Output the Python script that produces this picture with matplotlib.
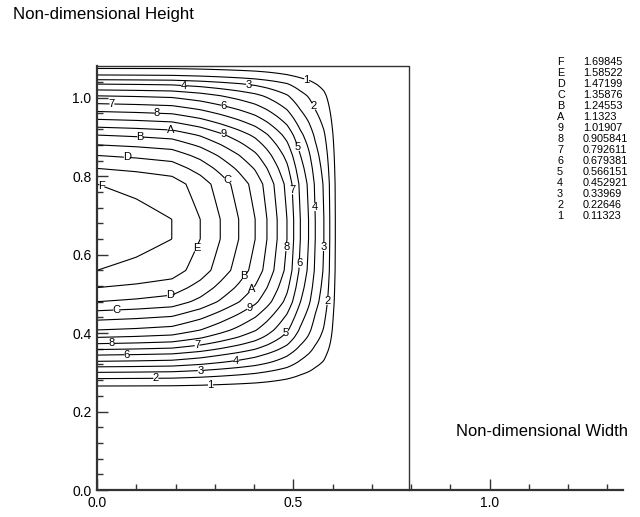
import numpy as np
import matplotlib.pyplot as plt

plt.rcParams['font.family'] = ['Liberation Sans', 'DejaVu Sans']

# contour levels (legend)
level_names = ['1', '2', '3', '4', '5', '6', '7', '8', '9', 'A', 'B', 'C', 'D', 'E', 'F']
level_values = [0.11323, 0.22646, 0.33969, 0.452921, 0.566151, 0.679381, 0.792611,
                0.905841, 1.01907, 1.1323, 1.24553, 1.35876, 1.47199, 1.58522, 1.69845]

# where each contour crosses the centre line (y ~ 0.66)
x_cross = [0.607, 0.593, 0.578, 0.556, 0.539, 0.518, 0.501, 0.484, 0.459, 0.433,
           0.403, 0.361, 0.314, 0.263, 0.191]
# where each contour meets the left wall, lower and upper branch
y_low = [0.265, 0.284, 0.300, 0.314, 0.328, 0.344, 0.358, 0.373, 0.389, 0.408,
         0.433, 0.457, 0.480, 0.516, 0.560]
y_high = [1.075, 1.058, 1.046, 1.035, 1.020, 1.005, 0.985, 0.965, 0.945, 0.925,
          0.905, 0.880, 0.853, 0.820, 0.780]
peak_value = 1.76
# centre of the core: (x, value fraction) and the flat band in y
core_x = [0.0, 0.10]
core_frac = [1.0, 0.985]
peak_band_y = (0.64, 0.69)
domain_width = 0.795
domain_height = 1.081

# contour label positions
label_pos = [
    (0.535, 1.054), (0.289, 0.268),
    (0.560, 0.989), (0.590, 0.482), (0.150, 0.283),
    (0.386, 1.036), (0.577, 0.620), (0.263, 0.306),
    (0.221, 1.027), (0.560, 0.722), (0.354, 0.331),
    (0.518, 0.879), (0.482, 0.399),
    (0.323, 0.982), (0.519, 0.577), (0.076, 0.344),
    (0.038, 0.985), (0.497, 0.764), (0.255, 0.368),
    (0.153, 0.964), (0.480, 0.620), (0.038, 0.374),
    (0.323, 0.908), (0.386, 0.477),
    (0.187, 0.917), (0.389, 0.526),
    (0.110, 0.902), (0.369, 0.558),
    (0.327, 0.777), (0.049, 0.458),
    (0.076, 0.851), (0.185, 0.514),
    (0.250, 0.622),
    (0.013, 0.781),
]

# build the field from the profiles read above
frac = np.array(level_values) / peak_value
px = np.concatenate([core_x, x_cross[::-1], [0.625, domain_width]])
pv = np.concatenate([core_frac, frac[::-1], [0.0, 0.0]])
qy = np.concatenate([[0.0, 0.25], y_low, peak_band_y, y_high[::-1], [domain_height]])
qv = np.concatenate([[0.0, 0.0], frac, [1.0, 1.0], frac[::-1], [0.0]])

gx = np.linspace(0, domain_width, 400)
gy = np.linspace(0, domain_height, 500)
X, Y = np.meshgrid(gx, gy)
Z = peak_value * np.interp(X, px, pv) * np.interp(Y, qy, qv)

fig = plt.figure(figsize=(6.4, 5.17), dpi=100)
ax = fig.add_axes([97 / 640, 27 / 517, 526 / 640, 424 / 517])

cs = ax.contour(X, Y, Z, levels=level_values, colors='black', linewidths=0.8)
fmt = dict(zip(level_values, level_names))
labels = ax.clabel(cs, manual=label_pos, fmt=fmt, fontsize=8, inline=True,
                   inline_spacing=1)
for t in labels:
    t.set_rotation(0)

ax.set_xlim(0, 1.34)
ax.set_ylim(0, domain_height)

# frame around the domain
ax.plot([0, domain_width, domain_width], [domain_height, domain_height, 0],
        color='#333333', lw=1.0, clip_on=False)
ax.spines['top'].set_visible(False)
ax.spines['right'].set_visible(False)
ax.spines['left'].set_linewidth(1.6)
ax.spines['bottom'].set_linewidth(1.6)
ax.spines['left'].set_color('#333333')
ax.spines['bottom'].set_color('#333333')

ax.set_xticks([0.0, 0.5, 1.0])
ax.set_xticks(np.arange(0.1, 1.34, 0.1), minor=True)
ax.set_yticks([0.0, 0.2, 0.4, 0.6, 0.8, 1.0])
ax.set_yticks(np.arange(0.04, 1.08, 0.04), minor=True)
ax.set_xticklabels(['0.0', '0.5', '1.0'])
ax.set_yticklabels(['0.0', '0.2', '0.4', '0.6', '0.8', '1.0'])
ax.tick_params(which='major', direction='in', length=8, width=1, labelsize=10,
               color='#333333', pad=4)
ax.tick_params(which='minor', direction='in', length=4, width=1, color='#333333')

fig.text(13 / 640, 1 - 15 / 517, 'Non-dimensional Height', fontsize=12.2,
         ha='left', va='center')
fig.text(628 / 640, 1 - 432 / 517, 'Non-dimensional Width', fontsize=11.9,
         ha='right', va='center')

# legend of contour levels
for i, (name, val) in enumerate(zip(level_names[::-1], level_values[::-1])):
    yy = 1 - (62 + i * 11) / 517
    fig.text(557 / 640, yy, name, fontsize=7.8, ha='left', va='center')
    fig.text(583 / 640, yy, f'{val:g}', fontsize=7.8, ha='left', va='center')

fig.savefig('out.png', dpi=100)
